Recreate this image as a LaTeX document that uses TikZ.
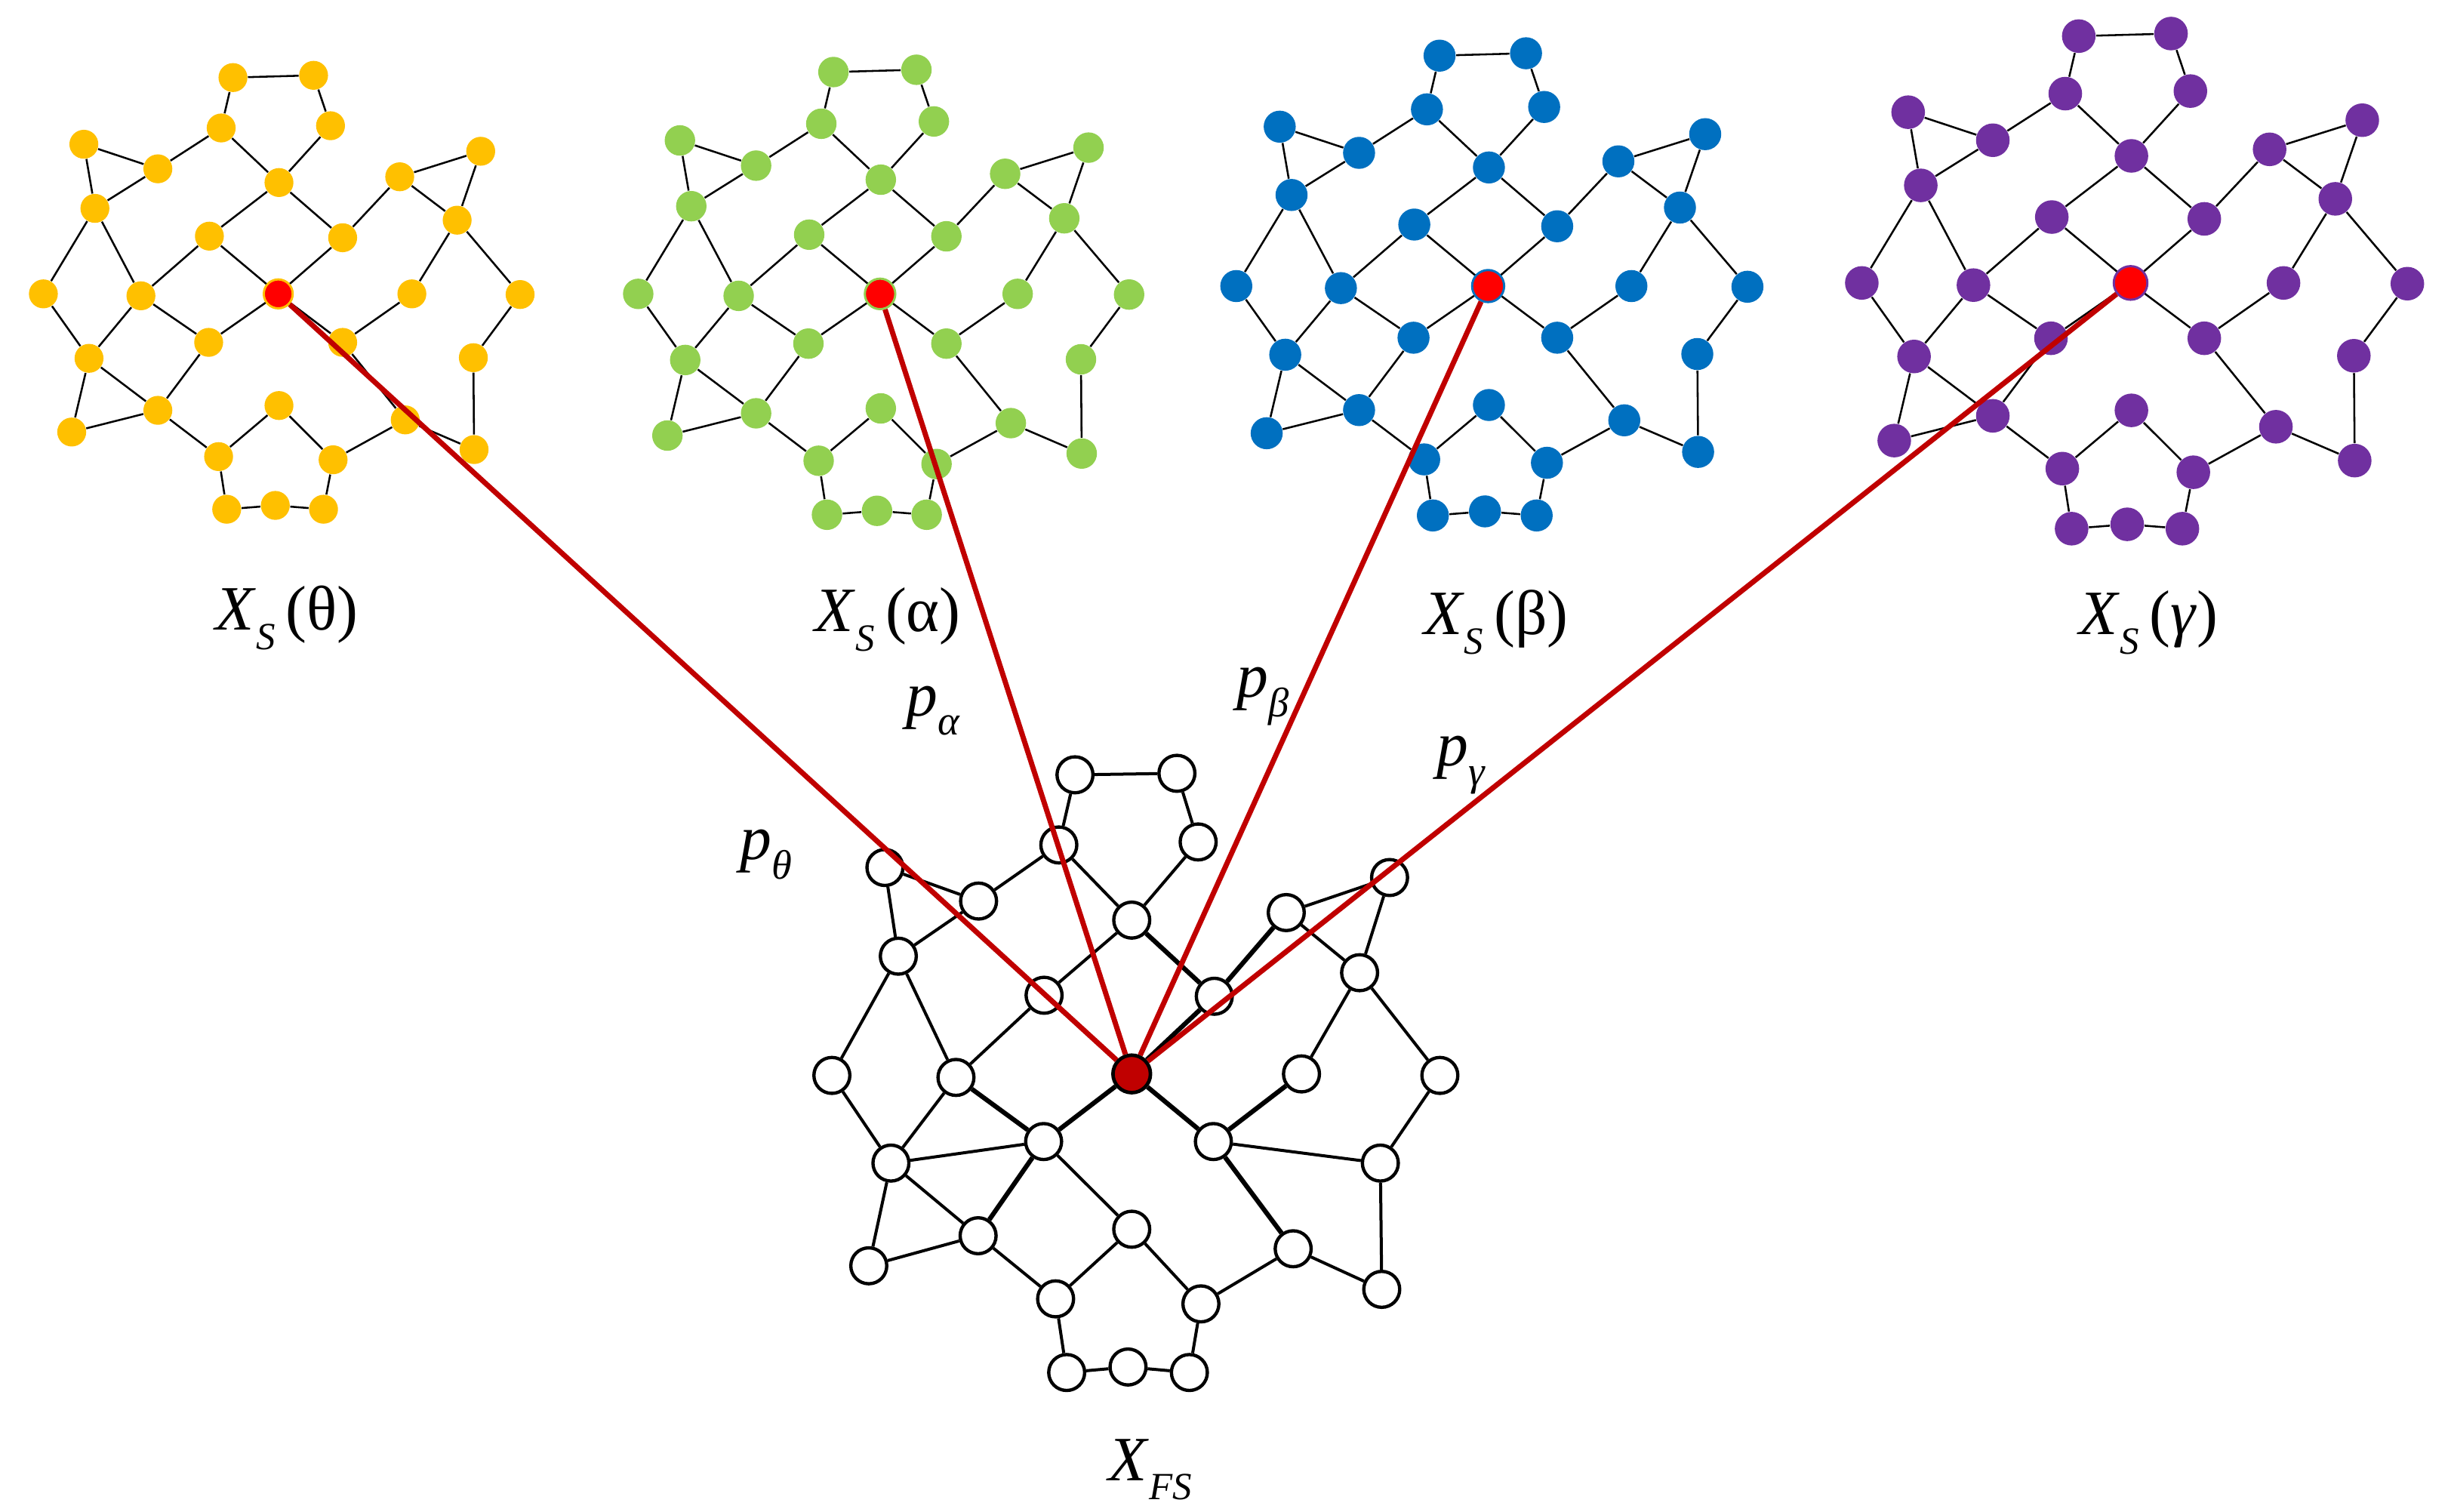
\documentclass[tikz,border=0pt]{standalone}
\usepackage{fontspec}
\setmainfont{Liberation Serif}
\definecolor{cy}{HTML}{FFC000}
\definecolor{cg}{HTML}{92D050}
\definecolor{cb}{HTML}{0070C0}
\definecolor{cp}{HTML}{7030A0}
\definecolor{dred}{HTML}{C00000}
\tikzset{
  sedge/.style={line width=0.7pt, black},
  bedge/.style={line width=1.1pt, black},
  bthick/.style={line width=1.7pt, black},
  bnode/.style={circle, draw=black, line width=1.2pt, fill=white, inner sep=0pt, minimum size=4.6mm},
  redline/.style={line width=1.9pt, dred},
  lab/.style={font=\fontsize{23}{27}\selectfont, inner sep=0pt, anchor=base},
}
\newcommand\mysub[1]{\raisebox{-7pt}{\fontsize{14}{14}\selectfont #1}}
\newcommand\mygsub[1]{\raisebox{-7pt}{\fontsize{15}{15}\selectfont #1}}
\newcommand\tplgraph[3]{%
  \foreach \n/\x/\y in {1/-123/-678, 2/96/-685, 3/-155/-520, 4/142/-527, 5/-528/-469,
     6/-327/-392, 7/2/-349, 8/330/-367, 9/550/-447, 10/-498/-268, 11/-187/-181,
     12/175/-176, 13/486/-231, 14/-638/0, 15/-373/6, 16/363/0, 17/657/2,
     18/-514/202, 19/-189/152, 20/175/152, 21/530/200, 22/-561/433, 23/-327/365,
     24/2/350, 25/345/395, 26/532/488, 27/-162/510, 28/149/520, 29/-140/675,
     30/-8/663, 31/123/675}{
    \node[circle, fill=#2, inner sep=0pt, minimum size=#3] (#1\n) at (\x,\y) {};
  }
  \node[circle, fill=red, draw=#2, line width=0.8pt, inner sep=0pt, minimum size=#3] (#1R) at (0,0) {};
  \foreach \a/\b in {1/2, 1/3, 2/4, 3/6, 3/7, 4/7, 5/6, 5/10, 6/10, 7/11, 7/12, 8/9,
     8/12, 8/13, 9/13, 10/14, 10/15, 11/15, 11/R, 12/R, 13/16, 13/17, 14/18, 15/18,
     15/19, R/19, R/20, 16/20, 17/21, 18/22, 18/23, 19/23, 20/25, 21/26, 22/23,
     23/27, 24/27, 24/28, 25/28, 25/26, 27/29, 28/31, 29/30, 30/31}{
    \draw[sedge] (#1\a) -- (#1\b);
  }
}
\begin{document}
\begin{tikzpicture}[x=0.02cm, y=-0.02cm]
\useasboundingbox (0,0) rectangle (1568,967);

% small graphs
\begin{scope}[shift={(178,188)}, xscale=0.2355, yscale=0.2041]
  \tplgraph{y}{cy}{3.7mm}
\end{scope}
\begin{scope}[shift={(563,188)}, xscale=0.2425, yscale=0.2093]
  \tplgraph{g}{cg}{3.9mm}
\end{scope}
\begin{scope}[shift={(952,183)}, xscale=0.2525, yscale=0.2174]
  \tplgraph{b}{cb}{4.1mm}
\end{scope}
\begin{scope}[shift={(1363,181)}, xscale=0.2695, yscale=0.2329]
  \tplgraph{p}{cp}{4.3mm}
\end{scope}

% big graph
\begin{scope}[shift={(724,687)}, xscale=0.2951, yscale=0.3205]
  \foreach \n/\x/\y in {1/-123/-597, 2/98/-600, 3/-158/-457, 4/144/-463, 5/-535/-412,
     6/-332/-345, 7/0/-307, 8/335/-322, 9/559/-392, 10/-506/-235, 11/-190/-157,
     12/179/-155, 13/494/-202, 14/-650/3, 15/-381/7, 16/368/0, 17/668/3,
     18/-522/178, 19/-191/135, 20/177/135, 21/539/178, 22/-570/383, 23/-333/323,
     24/0/310, 25/350/349, 26/542/430, 27/-165/449, 28/150/459, 29/-141/596,
     30/-8/585, 31/125/596}{
    \node[bnode] (F\n) at (\x,\y) {};
  }
  \node[circle, draw=black, line width=1.3pt, fill=dred, inner sep=0pt, minimum size=4.8mm] (FR) at (0,0) {};
  \foreach \a/\b in {1/2, 1/3, 2/4, 3/6, 3/7, 4/7, 5/6, 5/10, 6/10, 7/11, 8/9,
     8/13, 9/13, 10/14, 10/15, 11/15, 11/R, 13/16, 13/17, 14/18, 15/18,
     17/21, 18/19, 18/22, 18/23, 19/24, 20/21, 21/26, 22/23,
     23/27, 24/27, 24/28, 25/28, 25/26, 27/29, 28/31, 29/30, 30/31}{
    \draw[bedge] (F\a) -- (F\b);
  }
  \foreach \a/\b in {7/12, 8/12, 12/R, 15/19, R/19, R/20, 16/20, 19/23, 20/25}{
    \draw[bthick] (F\a) -- (F\b);
  }
\end{scope}

% red connectors
\draw[redline] (yR) -- (FR);
\draw[redline] (gR) -- (FR);
\draw[redline] (bR) -- (FR);
\draw[redline] (pR) -- (FR);

% labels
\node[lab] (lt) at (183.5,403) {\textit{X}\mysub{\textit{S}}\,(θ)};
\node[lab] (la) at (568,404) {\textit{X}\mysub{\textit{S}}\,(α)};
\node[lab] (lb) at (957,406) {\textit{X}\mysub{\textit{S}}\,(β)};
\node[lab] (lg) at (1374.5,406) {\textit{X}\mysub{\textit{S}}\,(\textit{γ})};
\node[lab] (pa) at (597,458) {\textit{p}\mygsub{\textit{α}}};
\node[lab] (pb) at (808,446) {\textit{p}\mygsub{\textit{β}}};
\node[lab] (pg) at (935,490) {\textit{p}\mygsub{\textit{γ}}};
\node[lab] (pt) at (490,550) {\textit{p}\mygsub{\textit{θ}}};
\node[lab] (xfs) at (736,947) {\textit{X}\mysub{\textit{FS}}};
\end{tikzpicture}
\end{document}
